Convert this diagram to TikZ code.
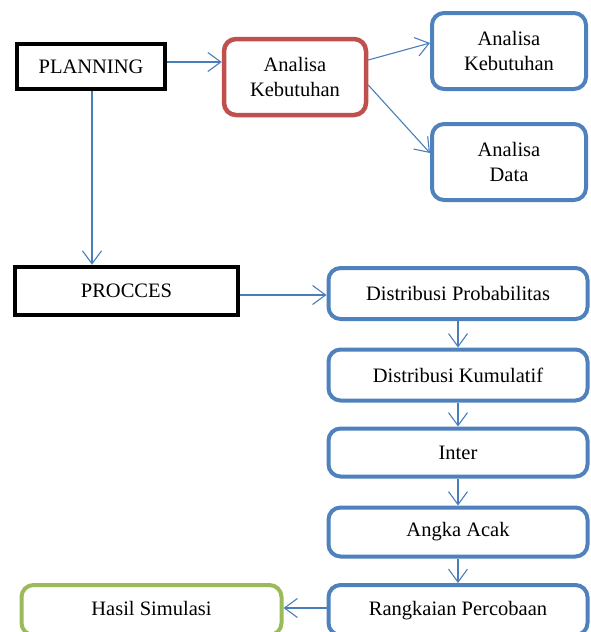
\documentclass[tikz,border=0pt]{standalone}
\usepackage{fontspec}
\setmainfont{Liberation Serif}
\usetikzlibrary{arrows.meta}
\definecolor{obblue}{HTML}{4F81BD}
\definecolor{obred}{HTML}{C0504D}
\definecolor{obgreen}{HTML}{9BBB59}
\definecolor{lnblue}{HTML}{4A7EBB}
\begin{document}
\begin{tikzpicture}[x=0.5pt,y=-0.5pt,
  every node/.style={font=\fontsize{10.25}{12.5}\selectfont, align=center, inner sep=0pt},
  blackbox/.style={draw=black, line width=2.25pt, fill=white},
  redbox/.style={draw=obred, line width=2.25pt, rounded corners=6pt, fill=white},
  bluebox/.style={draw=obblue, line width=2pt, rounded corners=6pt, fill=white},
  greenbox/.style={draw=obgreen, line width=2pt, rounded corners=6pt, fill=white},
  conn/.style={draw=lnblue, line width=0.55pt, -{Straight Barb[length=6.5pt,width=9.5pt,line width=0.55pt]}}]
\useasboundingbox (0,0) rectangle (590,632);
\clip (0,0) rectangle (590,632);
\node[blackbox, minimum width=74pt, minimum height=22.5pt] (plan) at (91,66.5) {PLANNING};
\node[redbox, minimum width=71pt, minimum height=38pt] (ak1) at (295,77) {Analisa\\Kebutuhan};
\node[bluebox, minimum width=77pt, minimum height=38pt] (ak2) at (509,51) {Analisa\\Kebutuhan};
\node[bluebox, minimum width=77pt, minimum height=38pt] (ad) at (509,162) {Analisa\\Data};
\node[blackbox, minimum width=111.5pt, minimum height=24pt] (proc) at (126.5,291) {PROCCES};
\node[bluebox, minimum width=129.5pt, minimum height=25.5pt] (dp) at (458,293.5) {Distribusi Probabilitas};
\node[bluebox, minimum width=129.5pt, minimum height=25.5pt] (dk) at (458,375) {Distribusi Kumulatif};
\node[bluebox, minimum width=129.5pt, minimum height=24pt] (in) at (458,452.5) {Inter};
\node[bluebox, minimum width=129.5pt, minimum height=24.5pt] (aa) at (458,532) {Angka Acak};
\node[bluebox, minimum width=129.5pt, minimum height=25pt, text depth=0pt] (rp) at (458,610) {\raisebox{2pt}{Rangkaian Percobaan}};
\node[greenbox, minimum width=130pt, minimum height=25pt] (hs) at (151.5,610) {\raisebox{2pt}{Hasil Simulasi}};
\draw[conn] (plan.east |- 0,62) -- (ak1.west |- 0,62);
\draw[conn] (ak1.east |- 0,60) -- (ak2.west |- 0,43);
\draw[conn] (ak1.east |- 0,85) -- (ad.west |- 0,153);
\draw[conn] (plan.south -| 92,0) -- (proc.north -| 92,0);
\draw[conn] (proc.east |- 0,295) -- (dp.west |- 0,295);
\draw[conn] (dp) -- (dk);
\draw[conn] (dk) -- (in);
\draw[conn] (in) -- (aa);
\draw[conn] (aa) -- (rp);
\draw[conn] (rp.west |- 0,608) -- (hs.east |- 0,608);
\end{tikzpicture}
\end{document}
